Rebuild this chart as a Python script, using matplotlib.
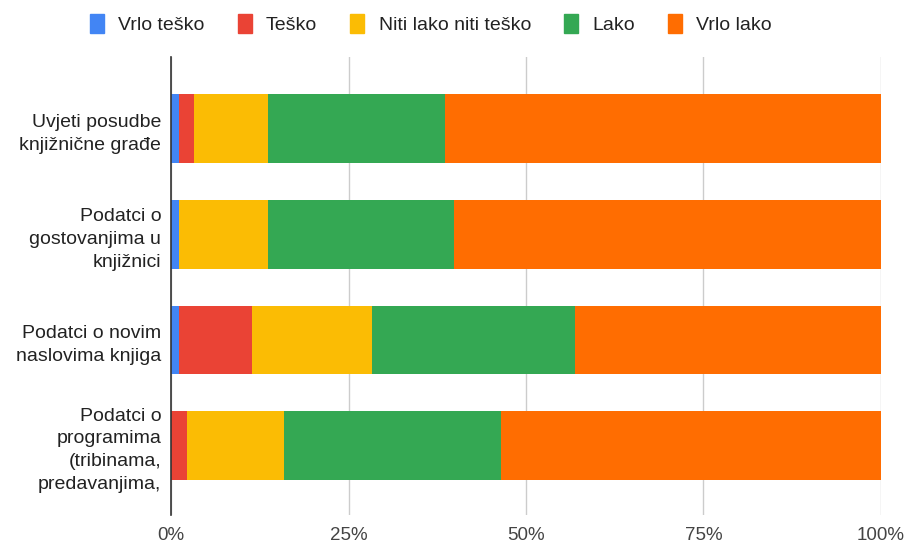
import matplotlib.pyplot as plt
from matplotlib.ticker import FuncFormatter

categories = [
    "Uvjeti posudbe\nknjižnične građe",
    "Podatci o\ngostovanjima u\nknjižnici",
    "Podatci o novim\nnaslovima knjiga",
    "Podatci o\nprogramima\n(tribinama,\npredavanjima,",
]
series_names = ["Vrlo teško", "Teško", "Niti lako niti teško", "Lako", "Vrlo lako"]
vrlo_tesko = [1.1, 1.1, 1.1, 0.0]
tesko = [2.2, 0.0, 10.3, 2.2]
niti = [10.4, 12.6, 16.9, 13.7]
lako = [24.9, 26.1, 28.6, 30.6]
vrlo_lako = [61.4, 60.2, 43.1, 53.5]
x_ticks = [0, 25, 50, 75, 100]

colors = ["#4285F4", "#EA4335", "#FBBC04", "#34A853", "#FF6D01"]

plt.rcParams["font.family"] = ["Liberation Sans", "DejaVu Sans"]
plt.rcParams["font.size"] = 14

fig = plt.figure(figsize=(9.08, 5.45), dpi=100)
W, H = 908, 545
ax = fig.add_axes([171 / W, 1 - 515 / H, (881 - 171) / W, (515 - 57) / H])

series = [vrlo_tesko, tesko, niti, lako, vrlo_lako]
ypos = list(range(len(categories)))
left = [0.0] * len(categories)
for name, vals, c in zip(series_names, series, colors):
    ax.barh(ypos, vals, left=left, height=0.65, color=c, label=name,
            linewidth=0, zorder=3)
    left = [l + v for l, v in zip(left, vals)]

ax.set_xlim(0, 100)
ax.set_ylim(3.66, -0.68)
ax.set_xticks(x_ticks)
ax.xaxis.set_major_formatter(FuncFormatter(lambda v, p: f"{v:.0f}%"))
ax.set_yticks(ypos)
ax.set_yticklabels(categories, color="#222222", linespacing=1.45)
ax.tick_params(axis="both", length=0)
ax.tick_params(axis="y", pad=7)
ax.tick_params(axis="x", pad=9, colors="#444444", labelsize=13.5)
ax.grid(axis="x", color="#cccccc", linewidth=1, zorder=0)
for s in ["top", "right", "bottom"]:
    ax.spines[s].set_visible(False)
ax.spines["left"].set_color("#333333")
ax.spines["left"].set_linewidth(1.2)
ax.spines["left"].set_zorder(4)

handles = [plt.Rectangle((0, 0), 1, 1, color=c) for c in colors]
fig.legend(handles, series_names, loc="center", bbox_to_anchor=(431 / W, 1 - 24 / H),
           ncol=5, frameon=False, handlelength=0.7, handleheight=1.1,
           handletextpad=0.75, columnspacing=1.7, fontsize=14,
           labelcolor="#222222")

fig.savefig("out.png", dpi=100)
